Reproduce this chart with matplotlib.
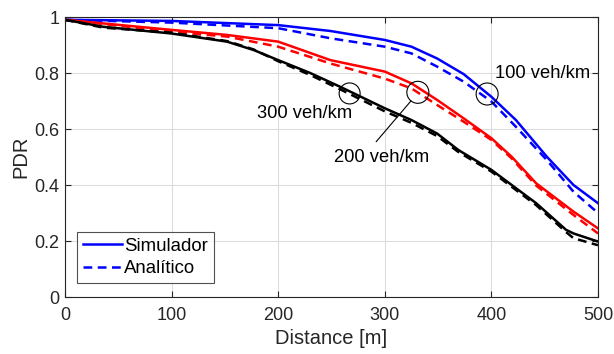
import matplotlib
matplotlib.use("Agg")
import matplotlib.pyplot as plt
from matplotlib.patches import Ellipse

plt.rcParams['font.family'] = ['Liberation Sans', 'DejaVu Sans']

# Data
x100 = [0, 100, 200, 249, 300, 325, 349, 374, 400, 423, 452, 477, 500]
sim100 = [0.99, 0.986, 0.971, 0.95, 0.918, 0.894, 0.852, 0.796, 0.715, 0.632, 0.501, 0.40, 0.335]
ana100 = [0.99, 0.98, 0.96, 0.924, 0.894, 0.870, 0.823, 0.769, 0.698, 0.608, 0.489, 0.376, 0.30]

x200 = [0, 100, 152, 200, 249, 300, 325, 349, 374, 400, 419, 442, 477, 500]
sim200 = [0.99, 0.954, 0.936, 0.912, 0.846, 0.805, 0.763, 0.704, 0.638, 0.567, 0.501, 0.406, 0.305, 0.245]
ana200 = [0.99, 0.948, 0.93, 0.894, 0.834, 0.78, 0.745, 0.686, 0.626, 0.561, 0.495, 0.398, 0.293, 0.227]

x300 = [0, 36, 100, 152, 177, 200, 230, 258, 300, 325, 349, 369, 400, 442, 470, 477, 500]
sim300 = [0.99, 0.965, 0.941, 0.912, 0.882, 0.846, 0.80, 0.751, 0.674, 0.632, 0.584, 0.525, 0.454, 0.335, 0.24, 0.227, 0.198]
ana300 = [0.99, 0.962, 0.944, 0.914, 0.884, 0.842, 0.793, 0.742, 0.663, 0.622, 0.575, 0.518, 0.448, 0.328, 0.232, 0.21, 0.185]

xticks = [0, 100, 200, 300, 400, 500]
yticks = [0, 0.2, 0.4, 0.6, 0.8, 1]

fig = plt.figure(figsize=(6.14, 3.54), dpi=100)
ax = fig.add_axes([65/614, 1-297/354, (598-65)/614, (297-17)/354])

lw = 1.8
ax.plot(x100, sim100, color='#0000ff', lw=lw, label='Simulador')
ax.plot(x100, ana100, color='#0000ff', lw=lw, ls=(0, (3.5, 2.2)), label='Analítico')
ax.plot(x200, sim200, color='#ff0000', lw=lw)
ax.plot(x200, ana200, color='#ff0000', lw=lw, ls=(0, (3.5, 2.2)))
ax.plot(x300, sim300, color='black', lw=lw)
ax.plot(x300, ana300, color='black', lw=lw, ls=(0, (3.5, 2.2)))

ax.set_xlim(0, 500)
ax.set_ylim(0, 1)
ax.set_xticks(xticks)
ax.set_yticks(yticks)
ax.set_yticklabels(['0', '0.2', '0.4', '0.6', '0.8', '1'])
ax.tick_params(direction='in', labelsize=13, length=4, colors='#262626', top=True, right=True, pad=4)
ax.tick_params(axis='x', pad=7)
ax.grid(True, color='#dcdcdc', lw=0.8)
ax.set_axisbelow(True)
for s in ax.spines.values():
    s.set_color('#262626')
    s.set_linewidth(0.8)
ax.set_xlabel('Distance [m]', fontsize=14.5, color='#262626', labelpad=4)
ax.set_ylabel('PDR', fontsize=14.5, color='#262626', labelpad=3)

# annotations
pxx = (598-65)/500.0
pxy = (297-17)/1.0
def circ(cx, cy, r):
    ax.add_patch(Ellipse((cx, cy), 2*r/pxx, 2*r/pxy, fill=False, ec='black', lw=0.8, zorder=5))

circ(267, 0.727, 10.5)
circ(331, 0.731, 11)
circ(396, 0.725, 11)
ax.plot([324.5, 292], [0.700, 0.555], color='black', lw=0.8)
ax.text(225, 0.657, '300 veh/km', fontsize=13.2, ha='center', va='center')
ax.text(297, 0.50, '200 veh/km', fontsize=13.2, ha='center', va='center')
ax.text(448, 0.80, '100 veh/km', fontsize=13.2, ha='center', va='center')

leg = ax.legend(loc='lower left', bbox_to_anchor=(12/533, 14/280), fontsize=13.4,
                frameon=True, fancybox=False, borderpad=0.3, handlelength=2.1,
                handletextpad=0.15, labelspacing=0.3, borderaxespad=0)
leg.get_frame().set_edgecolor('#262626')
leg.get_frame().set_linewidth(0.8)

fig.savefig('out.png', dpi=100)
